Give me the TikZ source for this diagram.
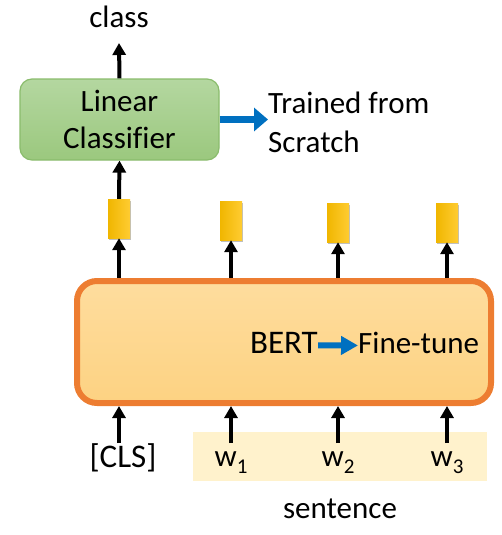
\documentclass[tikz,border=0pt]{standalone}
\usepackage{fontspec}
\setmainfont[Ligatures=NoCommon]{Carlito}
\usetikzlibrary{arrows.meta,shadows}
\definecolor{lingreen}{RGB}{180,215,160}
\definecolor{lingreenB}{RGB}{155,200,126}
\definecolor{linedge}{RGB}{138,188,108}
\definecolor{bertorange}{RGB}{237,125,49}
\definecolor{bertfillA}{RGB}{254,221,158}
\definecolor{bertfillB}{RGB}{253,210,130}
\definecolor{tokA}{RGB}{240,182,0}
\definecolor{tokB}{RGB}{255,204,50}
\definecolor{arrowblue}{RGB}{0,112,192}
\definecolor{sentbg}{RGB}{255,242,204}
\begin{document}
\begin{tikzpicture}[x=1pt,y=-1pt,
  txt/.style={inner sep=0pt, font=\fontsize{31}{38}\selectfont, text=black},
  blk/.style={line width=4pt, -{Triangle[length=12pt,width=13pt]}},
  bluearr/.style={line width=7pt, draw=arrowblue, -{Triangle[length=14pt,width=23pt]}},
  tokbox/.style={rectangle, inner sep=0pt, minimum width=22pt, minimum height=39pt,
    left color=tokA, right color=tokB, draw=none,
    drop shadow={shadow xshift=0.5pt, shadow yshift=-1.5pt, opacity=0.25, fill=black}},
  linbox/.style={rectangle, rounded corners=12pt, draw=linedge, line width=1.2pt,
    top color=lingreen, bottom color=lingreenB, minimum width=199pt, minimum height=81pt,
    align=center, font=\fontsize{31}{37}\selectfont},
  bertbox/.style={rectangle, rounded corners=20pt, draw=bertorange, line width=6pt,
    top color=bertfillA, bottom color=bertfillB, minimum width=414pt, minimum height=122pt}
]
\useasboundingbox (0,0) rectangle (501,535);

% sentence background
\node[rectangle, fill=sentbg, inner sep=0pt, minimum width=294pt, minimum height=49pt] (sentbox) at (340,456.5) {};

% classifier
\node[linbox] (lin) at (119.5,119.5) {Linear\\Classifier};
\node[txt, anchor=base] (classlbl) at (119,28) {class};
\coordinate (clsTip) at (119,43);
\draw[blk] (lin.north) -- (clsTip);

% trained from scratch
\node[txt, anchor=base west, align=left, font=\fontsize{31}{39}\selectfont] (trained) at (268,152) {Trained from\\Scratch};
\draw[bluearr] (lin.east) -- (lin.east -| trained.west);

% tokens
\node[tokbox] (tok1) at (119,218.5) {};
\node[tokbox] (tok2) at (231,220.5) {};
\node[tokbox] (tok3) at (338,222.5) {};
\node[tokbox] (tok4) at (447,222.5) {};
\draw[blk] (tok1.north) -- (lin.south);

% BERT
\node[bertbox] (bert) at (284,342) {};
\node[txt, anchor=base east, font=\fontsize{33}{38}\selectfont] (bertlbl) at (318,353) {BERT};
\node[txt, anchor=base west] (ft) at (358,353) {Fine-tune};
\draw[line width=6pt, draw=arrowblue, -{Triangle[length=17pt,width=18pt]}] ([yshift=-3pt]bertlbl.east) -- ([yshift=-3pt]ft.west);

\foreach \i in {1,2,3,4}{
  \draw[blk] (tok\i |- bert.north) -- (tok\i.south);
}

% inputs
\node[txt, anchor=base, font=\fontsize{33}{38}\selectfont] (cls) at (123,467) {[CLS]};
\node[txt, anchor=base] (w1) at (231,466) {w\raisebox{-7pt}{\fontsize{21}{21}\selectfont 1}};
\node[txt, anchor=base] (w2) at (338,466) {w\raisebox{-7pt}{\fontsize{21}{21}\selectfont 2}};
\node[txt, anchor=base] (w3) at (447,466) {w\raisebox{-7pt}{\fontsize{21}{21}\selectfont 3}};
\coordinate (in0) at (119,443);
\coordinate (in1) at (231,443);
\coordinate (in2) at (338,443);
\coordinate (in3) at (447,443);
\draw[blk] (in0) -- (in0 |- bert.south);
\draw[blk] (in1) -- (in1 |- bert.south);
\draw[blk] (in2) -- (in2 |- bert.south);
\draw[blk] (in3) -- (in3 |- bert.south);
\node[txt, anchor=base] (sent) at (340,518) {sentence};
\end{tikzpicture}
\end{document}
